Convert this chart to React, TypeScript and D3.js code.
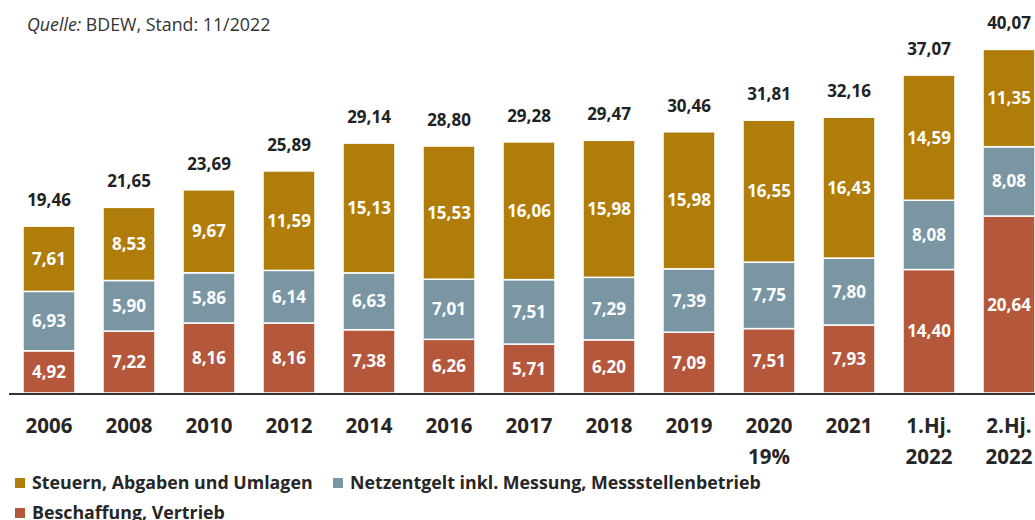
import React, { useEffect, useRef } from 'react';
import * as d3 from 'd3';

// Categories (line breaks split the label into two rows)
const categories = [
  '2006', '2008', '2010', '2012', '2014', '2016', '2017', '2018', '2019',
  '2020\n19%', '2021', '1.Hj.\n2022', '2.Hj.\n2022',
];

// Series values (ct/kWh)
const beschaffung = [4.92, 7.22, 8.16, 8.16, 7.38, 6.26, 5.71, 6.2, 7.09, 7.51, 7.93, 14.4, 20.64];
const netzentgelt = [6.93, 5.9, 5.86, 6.14, 6.63, 7.01, 7.51, 7.29, 7.39, 7.75, 7.8, 8.08, 8.08];
const steuern = [7.61, 8.53, 9.67, 11.59, 15.13, 15.53, 16.06, 15.98, 15.98, 16.55, 16.43, 14.59, 11.35];
const totals = [19.46, 21.65, 23.69, 25.89, 29.14, 28.8, 29.28, 29.47, 30.46, 31.81, 32.16, 37.07, 40.07];

const seriesNames = ['Beschaffung, Vertrieb', 'Netzentgelt inkl. Messung, Messstellenbetrieb', 'Steuern, Abgaben und Umlagen'];
const seriesColors = ['#b5573b', '#7a96a3', '#b07d0a'];

const fmt = (v: number) => v.toFixed(2).replace('.', ',');

const App = () => {
  const chartRef = useRef<SVGSVGElement | null>(null);

  useEffect(() => {
    const width = 1035;
    const font = "'Open Sans', sans-serif";

    const svg = d3.select(chartRef.current);
    svg.selectAll('*').remove();

    // Build stack table from the arrays
    const table = categories.map((c, i) => ({
      cat: c,
      s0: beschaffung[i],
      s1: netzentgelt[i],
      s2: steuern[i],
    }));
    const stacked = d3.stack<any>().keys(['s0', 's1', 's2'])(table);

    const xScale = d3
      .scaleBand()
      .domain(categories)
      .range([9, 1049])
      .paddingInner(0.35)
      .paddingOuter(0.175);

    const baseY = 393;
    const yScale = d3.scaleLinear().domain([0, 40]).range([baseY, 50]);

    // Source note
    const src = svg
      .append('text')
      .attr('x', 27)
      .attr('y', 31)
      .attr('font-family', font)
      .attr('font-size', 17.8)
      .attr('fill', '#333');
    src.append('tspan').attr('font-style', 'italic').text('Quelle:');
    src.append('tspan').text(' BDEW, Stand: 11/2022');

    // Bars
    const layers = svg
      .selectAll('g.layer')
      .data(stacked)
      .enter()
      .append('g')
      .attr('class', 'layer')
      .attr('fill', (d, i) => seriesColors[i]);

    layers
      .selectAll('rect')
      .data((d) => d)
      .enter()
      .append('rect')
      .attr('x', (d: any) => xScale(d.data.cat)!)
      .attr('y', (d) => yScale(d[1]))
      .attr('width', xScale.bandwidth())
      .attr('height', (d) => yScale(d[0]) - yScale(d[1]))
      .attr('stroke', '#fff')
      .attr('stroke-width', 1.5);

    // Segment labels
    layers
      .selectAll('text')
      .data((d) => d)
      .enter()
      .append('text')
      .attr('x', (d: any) => xScale(d.data.cat)! + xScale.bandwidth() / 2)
      .attr('y', (d) => (yScale(d[0]) + yScale(d[1])) / 2)
      .attr('dy', '0.36em')
      .attr('text-anchor', 'middle')
      .attr('font-family', font)
      .attr('font-weight', 'bold')
      .attr('font-size', 17)
      .attr('fill', '#fff')
      .text((d) => fmt(d[1] - d[0]));

    // Total labels
    svg
      .selectAll('text.total')
      .data(totals)
      .enter()
      .append('text')
      .attr('class', 'total')
      .attr('x', (d, i) => xScale(categories[i])! + xScale.bandwidth() / 2)
      .attr('y', (d) => yScale(d) - 20)
      .attr('text-anchor', 'middle')
      .attr('font-family', font)
      .attr('font-weight', 'bold')
      .attr('font-size', 17)
      .attr('fill', '#222')
      .text((d) => fmt(d));

    // Baseline
    svg
      .append('line')
      .attr('x1', 9)
      .attr('x2', width)
      .attr('y1', baseY + 1)
      .attr('y2', baseY + 1)
      .attr('stroke', '#333')
      .attr('stroke-width', 2);

    // Category labels
    const catText = svg
      .selectAll('text.cat')
      .data(categories)
      .enter()
      .append('text')
      .attr('class', 'cat')
      .attr('text-anchor', 'middle')
      .attr('font-family', font)
      .attr('font-weight', 'bold')
      .attr('font-size', 20.5)
      .attr('fill', '#262626');
    catText
      .selectAll('tspan')
      .data((d) => d.split('\n').map((t) => ({ t, c: d })))
      .enter()
      .append('tspan')
      .attr('x', (d) => xScale(d.c)! + xScale.bandwidth() / 2)
      .attr('y', (d, i) => 433 + i * 31)
      .text((d) => d.t);

    // Legend
    const legendItems = [
      { name: seriesNames[2], color: seriesColors[2], x: 15, y: 478 },
      { name: seriesNames[1], color: seriesColors[1], x: 333, y: 478 },
      { name: seriesNames[0], color: seriesColors[0], x: 15, y: 508 },
    ];
    const legend = svg
      .selectAll('g.legend')
      .data(legendItems)
      .enter()
      .append('g')
      .attr('class', 'legend')
      .attr('transform', (d) => `translate(${d.x}, ${d.y})`);
    legend.append('rect').attr('width', 10).attr('height', 10).attr('fill', (d) => d.color);
    legend
      .append('text')
      .attr('x', 17)
      .attr('y', 10.5)
      .attr('font-family', font)
      .attr('font-weight', 'bold')
      .attr('font-size', 17.8)
      .attr('fill', '#262626')
      .text((d) => d.name);
  }, []);

  return (
    <div style={{ position: 'fixed', left: 0, top: 0 }}>
      <svg ref={chartRef} width={1035} height={520} style={{ display: 'block', background: '#fff' }} />
    </div>
  );
};

export default App;
